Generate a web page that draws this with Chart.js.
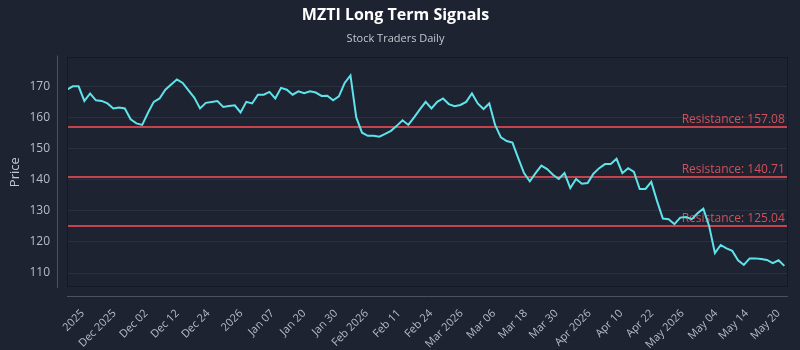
<!DOCTYPE html>
<html>
<head>
<meta charset="utf-8">
<script src="https://cdn.jsdelivr.net/npm/chart.js@4.4.1/dist/chart.umd.min.js"></script>
<style>
  html, body { margin: 0; padding: 0; background: #1e2332; }
  #wrap { width: 800px; height: 350px; }
</style>
</head>
<body>
<div id="wrap"><canvas id="c" width="800" height="350"></canvas></div>
<script>
// ---- data ----
const prices = [
  168.9, 170.0, 170.0, 165.3, 167.7, 165.5, 165.3, 164.5, 162.9, 163.2,
  162.9, 159.4, 158.1, 157.6, 161.5, 165.0, 166.1, 168.9, 170.6, 172.2,
  171.1, 168.7, 166.4, 162.9, 164.7, 165.0, 165.3, 163.4, 163.7, 163.9,
  161.6, 165.0, 164.5, 167.3, 167.3, 168.2, 166.1, 169.5, 168.9, 167.3,
  168.4, 167.8, 168.4, 168.0, 166.9, 167.0, 165.5, 166.8, 171.1, 173.5,
  160.0, 155.1, 154.1, 154.1, 153.8, 154.7, 155.7, 157.3, 159.1, 157.6,
  160.0, 162.6, 165.0, 162.9, 165.0, 166.1, 164.3, 163.6, 164.0, 165.0,
  167.7, 164.5, 162.7, 164.5, 157.6, 153.6, 152.4, 151.9, 146.9, 142.1,
  139.5, 142.1, 144.5, 143.4, 141.6, 140.2, 142.1, 137.3, 140.2, 138.7,
  138.9, 141.9, 143.7, 145.0, 145.0, 146.7, 142.1, 143.7, 142.5, 137.0,
  137.0, 139.3, 133.1, 127.5, 127.3, 125.7, 127.8, 128.0, 127.3, 129.2,
  130.7, 125.1, 116.4, 119.0, 117.9, 117.1, 114.1, 112.6, 114.7, 114.7,
  114.5, 114.2, 113.2, 114.1, 112.3
];
const tickLabels = [
  "2025", "Dec 2025", "Dec 02", "Dec 12", "Dec 24", "2026", "Jan 07", "Jan 20",
  "Jan 30", "Feb 2026", "Feb 11", "Feb 24", "Mar 2026", "Mar 06", "Mar 18",
  "Mar 30", "Apr 2026", "Apr 10", "Apr 22", "May 2026", "May 04", "May 14", "May 20"
];
const tickPositions = [
  2.7, 8.2, 13.7, 19.1, 24.4, 30.1, 35.5, 41.0, 46.5, 51.8, 57.4, 62.9,
  68.2, 73.8, 79.3, 84.6, 90.3, 95.8, 101.1, 106.4, 112.2, 117.5, 123.0
];
const resistanceLevels = [157.08, 140.71, 125.04];
const yTicks = [110, 120, 130, 140, 150, 160, 170];

const FONT = "'Open Sans', 'DejaVu Sans', sans-serif";

const framePlugin = {
  id: 'frame',
  beforeDatasetsDraw(chart) {
    const { ctx, chartArea: a, scales } = chart;
    ctx.save();
    ctx.strokeStyle = '#c4434d';
    ctx.lineWidth = 2;
    resistanceLevels.forEach(v => {
      const y = Math.round(scales.y.getPixelForValue(v));
      ctx.beginPath();
      ctx.moveTo(a.left, y);
      ctx.lineTo(a.right, y);
      ctx.stroke();
    });
    ctx.fillStyle = '#d0525b';
    ctx.font = "12px " + FONT;
    ctx.textAlign = 'right';
    ctx.textBaseline = 'alphabetic';
    resistanceLevels.forEach(v => {
      const y = scales.y.getPixelForValue(v);
      ctx.fillText('Resistance: ' + v.toFixed(2), a.right - 3, y - 4);
    });
    ctx.restore();
  },
  afterDraw(chart) {
    const { ctx, chartArea: a } = chart;
    ctx.save();
    ctx.strokeStyle = '#141926';
    ctx.lineWidth = 1;
    ctx.strokeRect(Math.round(a.left) + 0.5, Math.round(a.top) + 0.5,
                   Math.round(a.right - a.left) - 1, Math.round(a.bottom - a.top) - 1);
    ctx.strokeStyle = '#4b5263';
    ctx.beginPath();
    ctx.moveTo(Math.round(a.left) - 9.5, a.top - 2);
    ctx.lineTo(Math.round(a.left) - 9.5, a.bottom + 1);
    ctx.moveTo(a.left, Math.round(a.bottom) + 9.5);
    ctx.lineTo(a.right, Math.round(a.bottom) + 9.5);
    ctx.stroke();
    ctx.restore();
  }
};

new Chart(document.getElementById('c'), {
  type: 'line',
  data: {
    datasets: [{
      data: prices.map((v, i) => ({ x: i, y: v })),
      borderColor: '#5fe3ea',
      borderWidth: 2,
      pointRadius: 0,
      tension: 0,
      fill: false
    }]
  },
  options: {
    responsive: false,
    animation: false,
    devicePixelRatio: 1,
    layout: { padding: { left: 0, right: 9, top: 6, bottom: 0 } },
    plugins: {
      legend: { display: false },
      tooltip: { enabled: false },
      title: {
        display: true,
        text: 'MZTI Long Term Signals',
        color: '#ffffff',
        font: { family: FONT, size: 16, weight: 'bold' },
        padding: { top: 0, bottom: 7 }
      },
      subtitle: {
        display: true,
        text: 'Stock Traders Daily',
        color: '#c3c7cf',
        font: { family: FONT, size: 11 },
        padding: { top: 0, bottom: 12 }
      }
    },
    scales: {
      x: {
        type: 'linear',
        min: 0,
        max: 124.6,
        grid: { display: false },
        border: { display: false },
        afterBuildTicks: s => { s.ticks = tickPositions.map(v => ({ value: v })); },
        afterFit: s => { s.height = 63; },
        ticks: {
          autoSkip: false,
          maxRotation: 45,
          minRotation: 45,
          padding: 12,
          color: '#b7bcc7',
          font: { family: FONT, size: 11 },
          callback: (v, i) => tickLabels[i]
        }
      },
      y: {
        min: 105.5,
        max: 179.3,
        afterBuildTicks: s => { s.ticks = yTicks.map(v => ({ value: v })); },
        afterFit: s => { s.width = 67; },
        grid: { color: 'rgba(255,255,255,0.06)', drawTicks: false },
        border: { display: false },
        title: {
          display: true,
          text: 'Price',
          color: '#c3c7cf',
          font: { family: FONT, size: 13 },
          padding: { top: 7, bottom: 0 }
        },
        ticks: {
          padding: 17,
          color: '#b7bcc7',
          font: { family: FONT, size: 12 }
        }
      }
    }
  },
  plugins: [framePlugin]
});
</script>
</body>
</html>
